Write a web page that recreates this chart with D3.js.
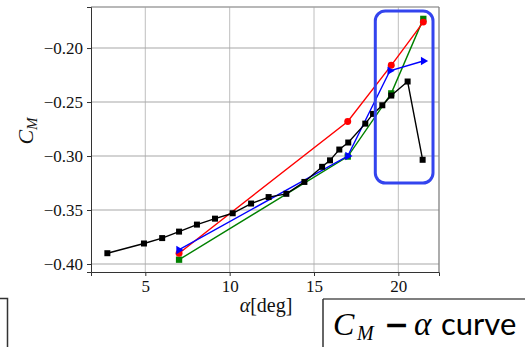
<!DOCTYPE html>
<html>
<head>
<meta charset="utf-8">
<script src="https://cdn.jsdelivr.net/npm/d3@7"></script>
<style>
  body { margin: 0; background: #fff; }
  svg { display: block; }
  .axis text { font-family: "Liberation Serif", "Times New Roman", serif; font-size: 17px; fill: #111; }
  .axis .domain, .axis .tick line { stroke: #333; }
</style>
</head>
<body>
<div id="chart"></div>
<script>
// measured curve (black squares)
let alphaExp = [2.75, 4.92, 6.0, 7.0, 8.06, 9.13, 10.18, 11.27, 12.31, 13.36, 14.43, 15.48, 15.95, 16.5, 17.03, 18.04, 18.5, 19.05, 19.58, 20.55, 21.44]
let cmExp = [-0.390, -0.381, -0.376, -0.370, -0.3635, -0.358, -0.353, -0.344, -0.338, -0.335, -0.324, -0.310, -0.304, -0.294, -0.2875, -0.270, -0.261, -0.253, -0.244, -0.231, -0.3035]

// computed cases
let alphaSim = [7.0, 17.0, 19.58, 21.48]
let cmRed = [-0.390, -0.268, -0.216, -0.176]
let cmGreen = [-0.396, -0.3005, -0.242, -0.173]
let alphaBlue = [6.98, 17.0, 19.5, 21.48]
let cmBlue = [-0.387, -0.300, -0.221, -0.212]

let xTicks = [5, 10, 15, 20]
let yTicks = [-0.40, -0.35, -0.30, -0.25, -0.20]

let dims = { width: 525, height: 347, left: 91, right: 439, top: 7, bottom: 272 }

const svg = d3.select("#chart").append("svg")
  .attr("width", dims.width).attr("height", dims.height)

const x = d3.scaleLinear().domain([1.78, 22.41]).range([dims.left, dims.right])
const y = d3.scaleLinear().domain([-0.4074, -0.162]).range([dims.bottom, dims.top])

// grid
svg.append("g").selectAll("line").data(xTicks).join("line")
  .attr("x1", d => x(d)).attr("x2", d => x(d))
  .attr("y1", dims.top).attr("y2", dims.bottom)
  .attr("stroke", "#c4c4c4").attr("stroke-width", 1.1)
svg.append("g").selectAll("line").data(yTicks).join("line")
  .attr("x1", dims.left).attr("x2", dims.right)
  .attr("y1", d => y(d)).attr("y2", d => y(d))
  .attr("stroke", "#a8a8a8").attr("stroke-width", 1.1)

// top and right spines (grey)
svg.append("line").attr("x1", dims.left).attr("x2", dims.right).attr("y1", dims.top).attr("y2", dims.top)
  .attr("stroke", "#a0a0a0").attr("stroke-width", 1.5)
svg.append("line").attr("x1", dims.right).attr("x2", dims.right).attr("y1", dims.top).attr("y2", dims.bottom)
  .attr("stroke", "#808080").attr("stroke-width", 1.3)

// axes
svg.append("g").attr("class", "axis").attr("transform", `translate(0,${dims.bottom})`)
  .call(d3.axisBottom(x).tickValues(xTicks).tickSize(4).tickPadding(4).tickFormat(d3.format("d")))
  .attr("font-family", "Liberation Serif").attr("font-size", 17)
svg.append("g").attr("class", "axis").attr("transform", `translate(${dims.left},0)`)
  .call(d3.axisLeft(y).tickValues(yTicks).tickSize(4).tickPadding(4).tickFormat(d3.format(".2f")))
  .attr("font-family", "Liberation Serif").attr("font-size", 17)

// series
function drawSeries(xs, ys, colour, marker, size) {
  let pts = xs.map((a, i) => [a, ys[i]])
  svg.append("path").datum(pts)
    .attr("d", d3.line().x(d => x(d[0])).y(d => y(d[1])))
    .attr("fill", "none").attr("stroke", colour).attr("stroke-width", 1.4)
  svg.append("g").selectAll("path").data(pts).join("path")
    .attr("d", d3.symbol().type(marker).size(size))
    .attr("transform", d => `translate(${x(d[0])},${y(d[1])})` + (marker === d3.symbolTriangle ? " rotate(90)" : ""))
    .attr("fill", colour)
}
drawSeries(alphaSim, cmGreen, "#008000", d3.symbolSquare, 40)
drawSeries(alphaSim, cmRed, "#ff0000", d3.symbolCircle, 38)
drawSeries(alphaBlue, cmBlue, "#0000ff", d3.symbolTriangle, 30)
drawSeries(alphaExp, cmExp, "#000000", d3.symbolSquare, 36)

// highlight box
svg.append("rect").attr("x", 375.3).attr("y", 11).attr("width", 57.7).attr("height", 172)
  .attr("rx", 10).attr("ry", 10)
  .attr("fill", "none").attr("stroke", "#3344ee").attr("stroke-width", 3)

// axis labels
svg.append("text").attr("transform", "translate(33,131) rotate(-90)")
  .attr("text-anchor", "middle").style("font-family", "'Liberation Serif', serif").attr("font-size", 22)
  .attr("font-style", "italic").attr("fill", "#111")
  .call(t => {
    t.append("tspan").text("C")
    t.append("tspan").attr("font-size", 15).attr("dy", 4).text("M")
  })
svg.append("text").attr("x", 266).attr("y", 312).attr("text-anchor", "middle")
  .style("font-family", "'Liberation Serif', serif").attr("font-size", 20).attr("fill", "#111")
  .call(t => {
    t.append("tspan").attr("font-style", "italic").text("α")
    t.append("tspan").text("[deg]")
  })

// cropped boxes at the bottom
svg.append("path").attr("d", "M0,298.5H7.5V347").attr("fill", "none").attr("stroke", "#333").attr("stroke-width", 1.5)
svg.append("line").attr("x1", 323).attr("x2", 525).attr("y1", 299).attr("y2", 299).attr("stroke", "#555").attr("stroke-width", 1.5)
svg.append("line").attr("x1", 323).attr("x2", 323).attr("y1", 299).attr("y2", 347).attr("stroke", "#333").attr("stroke-width", 1.5)

const title = svg.append("text").attr("y", 335).attr("fill", "#000")
title.append("tspan").attr("x", 333).style("font-family", "'Liberation Serif', serif").attr("font-style", "italic").attr("font-size", 32).text("C")
title.append("tspan").attr("x", 357).attr("dy", 5).style("font-family", "'Liberation Serif', serif").attr("font-style", "italic").attr("font-size", 20).text("M")
title.append("tspan").attr("x", 384).attr("dy", -5).style("font-family", "'DejaVu Sans', sans-serif").attr("font-weight", "bold").attr("font-size", 30).text("−")
title.append("tspan").attr("x", 414).style("font-family", "'Liberation Serif', serif").attr("font-style", "italic").attr("font-size", 33).text("α")
title.append("tspan").attr("x", 441).style("font-family", "Lato, sans-serif").attr("font-size", 31).text("curve")
</script>
</body>
</html>
